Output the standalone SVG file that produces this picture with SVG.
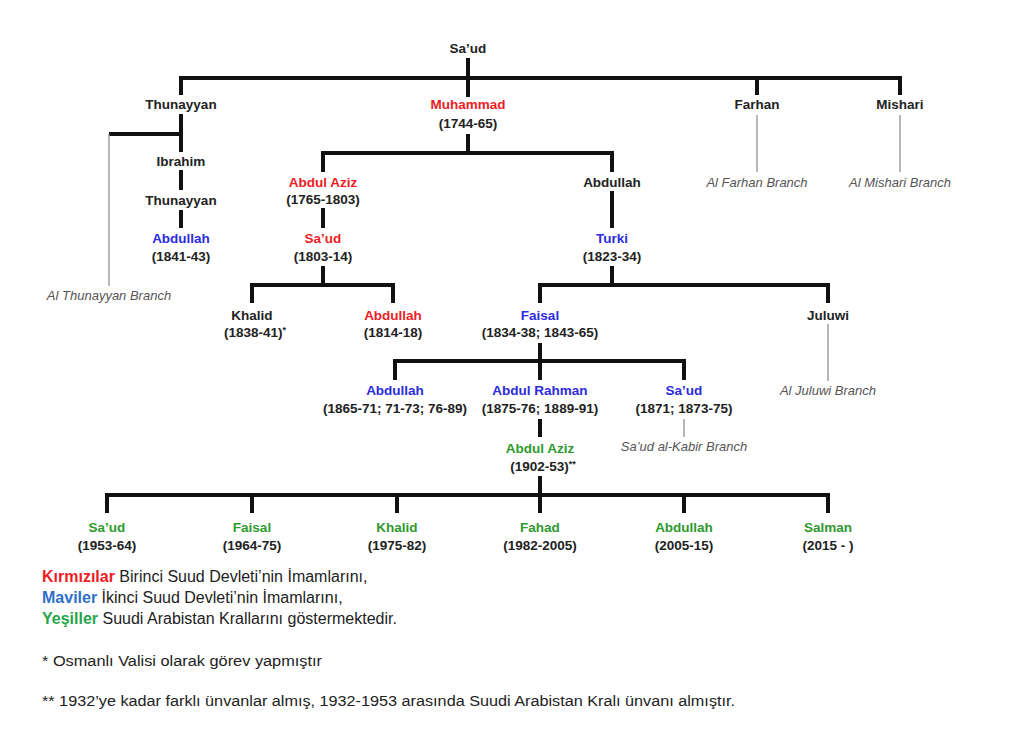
<svg xmlns="http://www.w3.org/2000/svg" width="1024" height="733" viewBox="0 0 1024 733">
  <style>
    text { font-family: "Liberation Sans", Arial, sans-serif; }
    .nm { font-size: 13.5px; font-weight: bold; text-anchor: middle; fill: #222; }
    .red { fill: #ee1c25; }
    .blue { fill: #2b2bdf; }
    .green { fill: #2e9a2e; }
    .br { font-size: 13px; font-style: italic; text-anchor: middle; fill: #555; }
    .lg { font-size: 16px; fill: #222; }
    .fn { font-size: 14px; fill: #222; }
    .k { fill: none; stroke: #111; stroke-width: 4; stroke-linejoin: miter; }
    .t { fill: none; stroke: #888; stroke-width: 1.2; }
  </style>
  <rect width="1024" height="733" fill="#ffffff"/>

  <!-- connectors -->
  <g id="connectors">
    <!-- Sa'ud to his sons -->
    <line class="k" x1="468" y1="58" x2="468" y2="97"/>
    <polyline class="k" points="181,95 181,78 900,78 900,95"/>
    <line class="k" x1="757" y1="78" x2="757" y2="95"/>
    <!-- Thunayyan line -->
    <line class="k" x1="181" y1="114" x2="181" y2="152"/>
    <line class="k" x1="109" y1="134" x2="181" y2="134"/>
    <line class="t" x1="109" y1="134" x2="109" y2="286"/>
    <line class="k" x1="181" y1="170" x2="181" y2="190"/>
    <line class="k" x1="181" y1="210" x2="181" y2="228"/>
    <!-- Farhan, Mishari branches -->
    <line class="t" x1="757" y1="115" x2="757" y2="172"/>
    <line class="t" x1="900" y1="115" x2="900" y2="172"/>
    <!-- Muhammad to sons -->
    <line class="k" x1="468" y1="134" x2="468" y2="153"/>
    <polyline class="k" points="323,172 323,153 612,153 612,172"/>
    <!-- Abdul Aziz line -->
    <line class="k" x1="323" y1="208" x2="323" y2="228"/>
    <line class="k" x1="323" y1="266" x2="323" y2="285"/>
    <polyline class="k" points="252,303 252,285 393,285 393,303"/>
    <!-- Abdullah line -->
    <line class="k" x1="612" y1="191" x2="612" y2="228"/>
    <line class="k" x1="612" y1="266" x2="612" y2="285"/>
    <polyline class="k" points="540,303 540,285 828,285 828,303"/>
    <line class="t" x1="828" y1="324" x2="828" y2="381"/>
    <!-- Faisal to sons -->
    <line class="k" x1="540" y1="343" x2="540" y2="380"/>
    <polyline class="k" points="395,380 395,361 684,361 684,380"/>
    <line class="t" x1="684" y1="419" x2="684" y2="437"/>
    <line class="k" x1="540" y1="419" x2="540" y2="437"/>
    <!-- Abdul Aziz to kings -->
    <line class="k" x1="540" y1="476" x2="540" y2="513"/>
    <polyline class="k" points="107,513 107,495 828,495 828,513"/>
    <line class="k" x1="252" y1="495" x2="252" y2="513"/>
    <line class="k" x1="397" y1="495" x2="397" y2="513"/>
    <line class="k" x1="684" y1="495" x2="684" y2="513"/>
  </g>

  <!-- people -->
  <g id="saud-root"><text class="nm" x="468" y="53">Sa’ud</text></g>
  <g id="thunayyan"><text class="nm" x="181" y="109">Thunayyan</text></g>
  <g id="muhammad"><text class="nm red" x="468" y="109">Muhammad</text><text class="nm" x="468" y="128">(1744-65)</text></g>
  <g id="farhan"><text class="nm" x="757" y="109">Farhan</text></g>
  <g id="mishari"><text class="nm" x="900" y="109">Mishari</text></g>
  <g id="farhan-branch"><text class="br" x="757" y="187">Al Farhan Branch</text></g>
  <g id="mishari-branch"><text class="br" x="900" y="187">Al Mishari Branch</text></g>

  <g id="ibrahim"><text class="nm" x="181" y="166">Ibrahim</text></g>
  <g id="thunayyan-2"><text class="nm" x="181" y="205">Thunayyan</text></g>
  <g id="abdullah-1841"><text class="nm blue" x="181" y="243">Abdullah</text><text class="nm" x="181" y="261">(1841-43)</text></g>
  <g id="thunayyan-branch"><text class="br" x="109" y="300">Al Thunayyan Branch</text></g>

  <g id="abdulaziz-1765"><text class="nm red" x="323" y="187">Abdul Aziz</text><text class="nm" x="323" y="204">(1765-1803)</text></g>
  <g id="saud-1803"><text class="nm red" x="323" y="243">Sa’ud</text><text class="nm" x="323" y="261">(1803-14)</text></g>
  <g id="khalid-1838"><text class="nm" x="252" y="320">Khalid</text><text class="nm" x="255" y="337">(1838-41)<tspan font-size="9" dy="-4">*</tspan></text></g>
  <g id="abdullah-1814"><text class="nm red" x="393" y="320">Abdullah</text><text class="nm" x="393" y="337">(1814-18)</text></g>

  <g id="abdullah"><text class="nm" x="612" y="187">Abdullah</text></g>
  <g id="turki"><text class="nm blue" x="612" y="243">Turki</text><text class="nm" x="612" y="261">(1823-34)</text></g>
  <g id="faisal-1834"><text class="nm blue" x="540" y="320">Faisal</text><text class="nm" x="540" y="337">(1834-38; 1843-65)</text></g>
  <g id="juluwi"><text class="nm" x="828" y="320">Juluwi</text></g>
  <g id="juluwi-branch"><text class="br" x="828" y="395">Al Juluwi Branch</text></g>

  <g id="abdullah-1865"><text class="nm blue" x="395" y="395">Abdullah</text><text class="nm" x="395" y="413">(1865-71; 71-73; 76-89)</text></g>
  <g id="abdulrahman"><text class="nm blue" x="540" y="395">Abdul Rahman</text><text class="nm" x="540" y="413">(1875-76; 1889-91)</text></g>
  <g id="saud-1871"><text class="nm blue" x="684" y="395">Sa’ud</text><text class="nm" x="684" y="413">(1871; 1873-75)</text></g>
  <g id="kabir-branch"><text class="br" x="684" y="451">Sa’ud al-Kabir Branch</text></g>

  <g id="abdulaziz-1902"><text class="nm green" x="540" y="453">Abdul Aziz</text><text class="nm" x="543" y="471">(1902-53)<tspan font-size="9" dy="-4">**</tspan></text></g>

  <g id="king-saud"><text class="nm green" x="107" y="532">Sa’ud</text><text class="nm" x="107" y="550">(1953-64)</text></g>
  <g id="king-faisal"><text class="nm green" x="252" y="532">Faisal</text><text class="nm" x="252" y="550">(1964-75)</text></g>
  <g id="king-khalid"><text class="nm green" x="397" y="532">Khalid</text><text class="nm" x="397" y="550">(1975-82)</text></g>
  <g id="king-fahad"><text class="nm green" x="540" y="532">Fahad</text><text class="nm" x="540" y="550">(1982-2005)</text></g>
  <g id="king-abdullah"><text class="nm green" x="684" y="532">Abdullah</text><text class="nm" x="684" y="550">(2005-15)</text></g>
  <g id="king-salman"><text class="nm green" x="828" y="532">Salman</text><text class="nm" x="828" y="550">(2015 - )</text></g>

  <!-- legend -->
  <g id="legend">
    <text class="lg" x="42" y="582"><tspan font-weight="bold" fill="#ee1c25">Kırmızılar</tspan> Birinci Suud Devleti’nin İmamlarını,</text>
    <text class="lg" x="42" y="603"><tspan font-weight="bold" fill="#2f6fc8">Maviler</tspan> İkinci Suud Devleti’nin İmamlarını,</text>
    <text class="lg" x="42" y="624"><tspan font-weight="bold" fill="#27a54a">Yeşiller</tspan> Suudi Arabistan Krallarını göstermektedir.</text>
  </g>
  <g id="footnotes">
    <text class="fn" x="42" y="666" textLength="280" lengthAdjust="spacingAndGlyphs">* Osmanlı Valisi olarak görev yapmıştır</text>
    <text class="fn" x="42" y="706" textLength="693" lengthAdjust="spacingAndGlyphs">** 1932’ye kadar farklı ünvanlar almış, 1932-1953 arasında Suudi Arabistan Kralı ünvanı almıştır.</text>
  </g>
</svg>
